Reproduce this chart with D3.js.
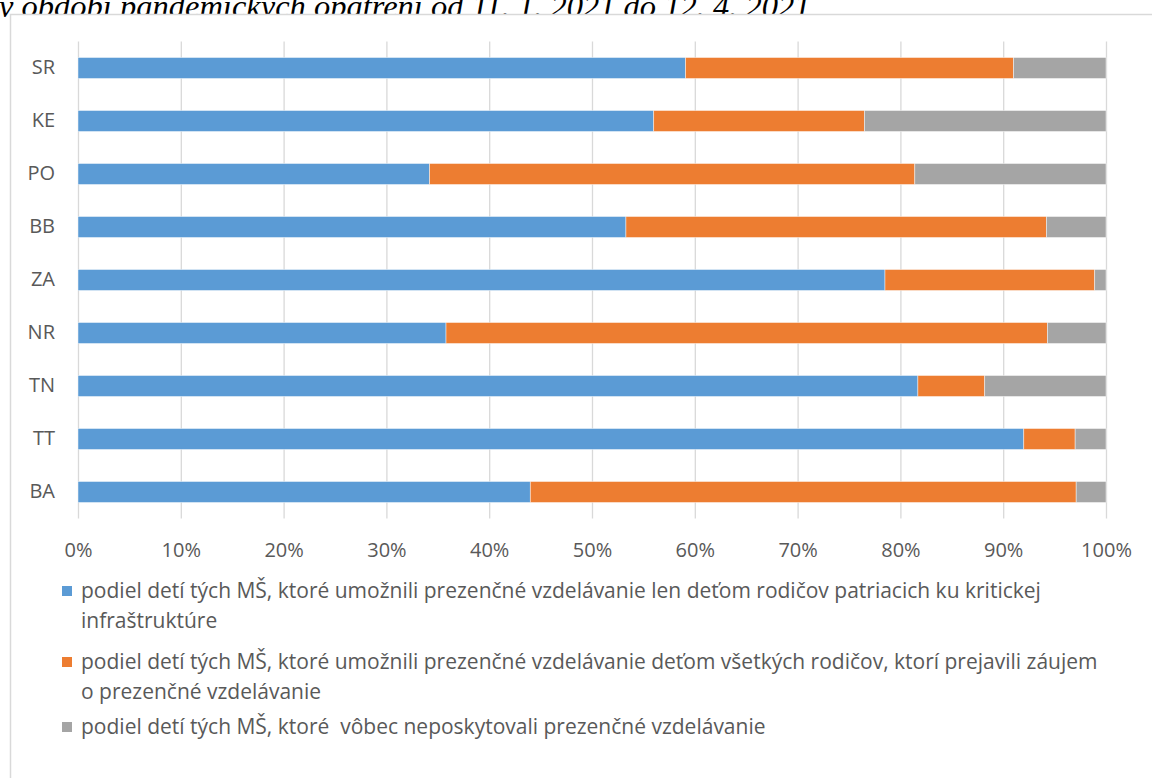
<!DOCTYPE html>
<html>
<head>
<meta charset="utf-8">
<script src="https://cdn.jsdelivr.net/npm/d3@7"></script>
<style>
  body { margin: 0; background: #fff; overflow: hidden; }
  svg { display: block; }
</style>
</head>
<body>
<script>
// kraje (zhora nadol) a podiely v %
var regions = ["SR", "KE", "PO", "BB", "ZA", "NR", "TN", "TT", "BA"];
var onlyCritical = [59.1, 56.0, 34.2, 53.3, 78.5, 35.8, 81.7, 92.0, 44.0];
var allParents   = [31.9, 20.5, 47.2, 40.9, 20.4, 58.5, 6.5, 5.0, 53.1];
var none         = [9.0, 23.5, 18.6, 5.8, 1.1, 5.7, 11.8, 3.0, 2.9];
var xTicks = [0, 10, 20, 30, 40, 50, 60, 70, 80, 90, 100];
var seriesKeys = ["critical", "all", "none"];
var seriesColors = ["#5B9BD5", "#ED7D31", "#A5A5A5"];
var legendLines = [
  ["podiel detí tých MŠ, ktoré umožnili prezenčné vzdelávanie len deťom rodičov patriacich ku kritickej", "infraštruktúre"],
  ["podiel detí tých MŠ, ktoré umožnili prezenčné vzdelávanie deťom všetkých rodičov, ktorí prejavili záujem", "o prezenčné vzdelávanie"],
  ["podiel detí tých MŠ, ktoré  vôbec neposkytovali prezenčné vzdelávanie"]
];
var title = "v období pandemických opatrení od 11. 1. 2021 do 12. 4. 2021";

var width = 1152, height = 778;
var margin = {top: 41.5, left: 78, right: 46, bottom: 259.5};
var font = "'Open Sans', sans-serif";

var svg = d3.select("body").append("svg")
    .attr("width", width)
    .attr("height", height)
    .attr("font-family", font);

// title partly cut by the top edge
svg.append("text")
    .attr("x", -1)
    .attr("y", 17)
    .attr("font-family", "'Liberation Serif', serif")
    .attr("font-style", "italic")
    .attr("font-size", 32.5)
    .attr("fill", "#000")
    .text(title);

// chart frame
svg.append("rect")
    .attr("x", 10.5).attr("y", 14.5)
    .attr("width", 1300).attr("height", 900)
    .attr("fill", "#fff")
    .attr("stroke", "#d9d9d9")
    .attr("stroke-width", 1.5);

var tableData = regions.map(function(r, i) {
    return {region: r, critical: onlyCritical[i], all: allParents[i], none: none[i]};
});

var x = d3.scaleLinear()
    .domain([0, 100])
    .range([margin.left, width - margin.right]);

var plotBottom = height - margin.bottom;
var bandPad = 1 - 21 / 53;
var y = d3.scaleBand()
    .domain(regions)
    .range([margin.top, plotBottom])
    .paddingInner(bandPad)
    .paddingOuter(bandPad / 2);

// gridlines + x labels
var xAxis = svg.append("g")
    .attr("transform", "translate(0," + plotBottom + ")")
    .call(d3.axisBottom(x)
        .tickValues(xTicks)
        .tickFormat(function(d) { return d + "%"; })
        .tickSizeInner(-(plotBottom - margin.top))
        .tickSizeOuter(0)
        .tickPadding(24));
xAxis.select(".domain").remove();
xAxis.selectAll("line").attr("stroke", "#d9d9d9").attr("stroke-width", 1.3);
xAxis.selectAll("text")
    .attr("fill", "#595959")
    .attr("font-size", 20)
    .attr("font-family", font);

var stack = d3.stack().keys(seriesKeys);
var layers = stack(tableData);

svg.append("g")
  .selectAll("g")
  .data(layers)
  .enter().append("g")
    .attr("fill", function(d, i) { return seriesColors[i]; })
  .selectAll("rect")
  .data(function(d) { return d; })
  .enter().append("rect")
    .attr("x", function(d) { return x(d[0]); })
    .attr("width", function(d) { return x(d[1]) - x(d[0]); })
    .attr("y", function(d) { return y(d.data.region); })
    .attr("height", y.bandwidth())
    .attr("stroke", "#fff")
    .attr("stroke-opacity", 0.6)
    .attr("stroke-width", 0.75);

// category labels
var yAxis = svg.append("g")
    .attr("transform", "translate(" + margin.left + ",0)")
    .call(d3.axisLeft(y).tickSize(0).tickPadding(23));
yAxis.select(".domain").remove();
yAxis.selectAll("text")
    .attr("fill", "#595959")
    .attr("font-size", 20)
    .attr("font-family", font);

// legend
var legendTop = [591, 662, 727];
var legend = svg.append("g");
legendLines.forEach(function(lines, i) {
    var g = legend.append("g").attr("transform", "translate(62," + legendTop[i] + ")");
    g.append("rect")
        .attr("x", 0).attr("y", -5)
        .attr("width", 10).attr("height", 10)
        .attr("fill", seriesColors[i]);
    lines.forEach(function(line, j) {
        g.append("text")
            .attr("x", 19)
            .attr("y", j * 30)
            .attr("dy", "0.35em")
            .attr("fill", "#595959")
            .attr("font-size", 21)
            .style("white-space", "pre")
            .text(line);
    });
});
</script>
</body>
</html>
